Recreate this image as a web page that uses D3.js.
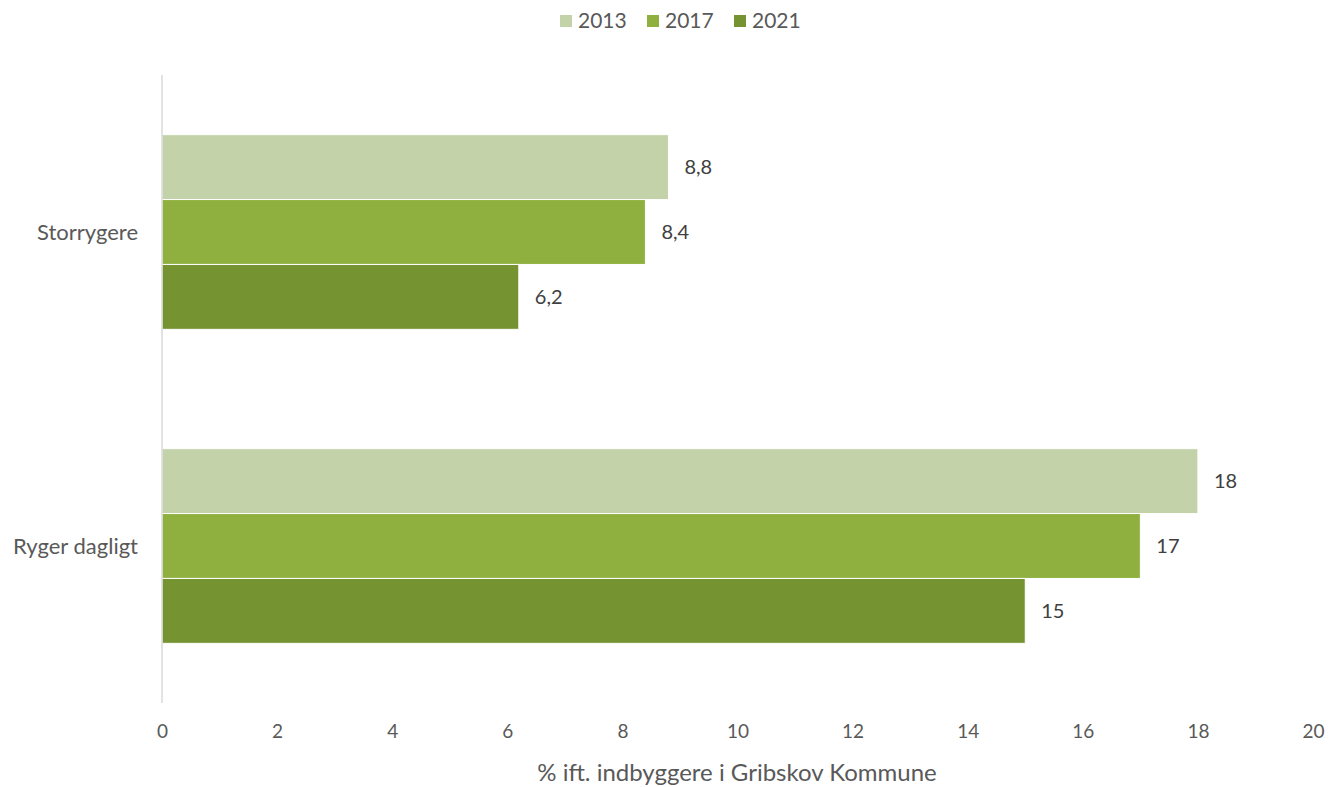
<!DOCTYPE html>
<html>
<head>
<meta charset="utf-8">
<script src="https://cdn.jsdelivr.net/npm/d3@7"></script>
<style>
  html, body { margin: 0; padding: 0; background: #fff; }
  svg { display: block; }
  text { font-family: Lato, "Open Sans", sans-serif; }
</style>
</head>
<body>
<svg id="chart" width="1330" height="787"></svg>
<script>
// Smoking habits, % of residents in Gribskov Kommune
const categories = ["Storrygere", "Ryger dagligt"];
const years = ["2013", "2017", "2021"];
const values2013 = [8.8, 18];
const values2017 = [8.4, 17];
const values2021 = [6.2, 15];
const valueLabels2013 = ["8,8", "18"];
const valueLabels2017 = ["8,4", "17"];
const valueLabels2021 = ["6,2", "15"];
const xTicks = [0, 2, 4, 6, 8, 10, 12, 14, 16, 18, 20];
const axisTitle = "% ift. indbyggere i Gribskov Kommune";
const colors = ["#c3d2a8", "#8fb03f", "#769332"];

const series = [
  { year: years[0], values: values2013, labels: valueLabels2013, color: colors[0] },
  { year: years[1], values: values2017, labels: valueLabels2017, color: colors[1] },
  { year: years[2], values: values2021, labels: valueLabels2021, color: colors[2] }
];

const svg = d3.select("#chart");
const margin = { top: 75, right: 17, bottom: 84, left: 162 };
const width = 1330 - margin.left - margin.right;
const height = 787 - margin.top - margin.bottom;

const g = svg.append("g").attr("transform", `translate(${margin.left},${margin.top})`);

const x = d3.scaleLinear().domain([0, 20]).range([0, width]);
const y0 = d3.scaleBand().domain(categories).range([0, height]).paddingInner(0.38).paddingOuter(0.19);
const y1 = d3.scaleBand().domain(years).range([0, y0.bandwidth()]);

// Bars with value labels
categories.forEach((cat, ci) => {
  const grp = g.append("g").attr("transform", `translate(0,${y0(cat)})`);
  series.forEach(s => {
    grp.append("rect")
      .attr("x", x(0))
      .attr("y", y1(s.year))
      .attr("width", x(s.values[ci]) - x(0))
      .attr("height", y1.bandwidth())
      .attr("fill", s.color)
      .attr("stroke", "#fff")
      .attr("stroke-width", 1);
    grp.append("text")
      .attr("x", x(s.values[ci]) + 16)
      .attr("y", y1(s.year) + y1.bandwidth() / 2)
      .attr("dy", "0.35em")
      .attr("fill", "#404040")
      .attr("font-size", 20)
      .text(s.labels[ci]);
  });
});

// Vertical axis line
g.append("line")
  .attr("x1", 0).attr("x2", 0)
  .attr("y1", 0).attr("y2", height)
  .attr("stroke", "#d9d9d9").attr("stroke-width", 1.5);

// Category labels
g.selectAll(".cat")
  .data(categories)
  .enter().append("text")
  .attr("x", -24)
  .attr("y", d => y0(d) + y0.bandwidth() / 2)
  .attr("dy", "0.35em")
  .attr("text-anchor", "end")
  .attr("fill", "#595959")
  .attr("font-size", 22)
  .text(d => d);

// X axis
const xAxis = d3.axisBottom(x).tickValues(xTicks).tickSize(0).tickPadding(22).tickFormat(d3.format("d"));
const ax = g.append("g").attr("transform", `translate(0,${height})`).call(xAxis);
ax.select(".domain").remove();
ax.selectAll("text").attr("fill", "#595959").attr("font-size", 19).attr("font-family", "Lato, 'Open Sans', sans-serif");

// Axis title
svg.append("text")
  .attr("x", 737)
  .attr("y", 781)
  .attr("text-anchor", "middle")
  .attr("fill", "#595959")
  .attr("font-size", 24)
  .text(axisTitle);

// Legend
const legend = svg.append("g").attr("transform", "translate(560,21)");
const legendStep = [0, 87, 174];
series.forEach((s, i) => {
  const it = legend.append("g").attr("transform", `translate(${legendStep[i]},0)`);
  it.append("rect").attr("x", 0).attr("y", -6).attr("width", 12).attr("height", 12).attr("fill", s.color);
  it.append("text").attr("x", 18).attr("y", 0).attr("dy", "0.35em")
    .attr("fill", "#595959").attr("font-size", 21).text(s.year);
});
</script>
</body>
</html>
